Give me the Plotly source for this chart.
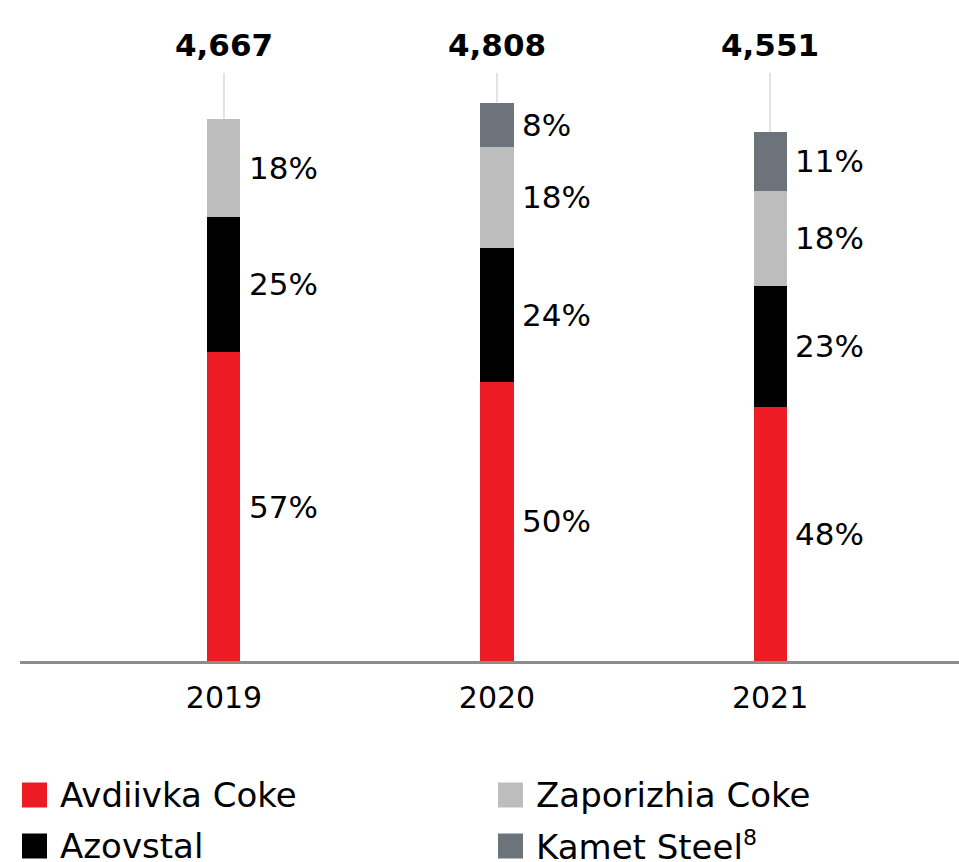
import plotly.graph_objects as go

years = ["2019", "2020", "2021"]
totals = [4667, 4808, 4551]
series_names = ["Avdiivka Coke", "Azovstal", "Zaporizhia Coke", "Kamet Steel"]
pct_avdiivka = [57, 50, 48]
pct_azovstal = [25, 24, 23]
pct_zaporizhia = [18, 18, 18]
pct_kamet = [0, 8, 11]
colors = ["#ED1C24", "#000000", "#BDBDBD", "#6C737A"]

pcts = [pct_avdiivka, pct_azovstal, pct_zaporizhia, pct_kamet]

W, H = 959, 862
ML, MR, MT, MB = 20, 0, 0, 201
FONT = "DejaVu Sans"

fig = go.Figure()
seg_vals = []
for name, pct, col in zip(series_names, pcts, colors):
    vals = [t * p / 100 for t, p in zip(totals, pct)]
    seg_vals.append(vals)
    fig.add_trace(go.Bar(x=years, y=vals, name=name, marker=dict(color=col, line=dict(width=0)),
                         width=0.121, showlegend=False, hoverinfo="skip"))

annotations = []
shapes = []
for i, y in enumerate(years):
    base = 0
    for s in range(len(series_names)):
        v = seg_vals[s][i]
        if pcts[s][i] > 0:
            annotations.append(dict(x=i, y=base + v / 2, xref="x", yref="y", text=f"{pcts[s][i]}%",
                                    showarrow=False, xanchor="left", yanchor="middle", xshift=23,
                                    font=dict(family=FONT, size=31, color="#000")))
        base += v
    annotations.append(dict(x=i, y=5300, xref="x", yref="y", text=f"<b>{totals[i]:,}</b>",
                            showarrow=False, xanchor="center", yanchor="middle",
                            font=dict(family=FONT, size=31, color="#000")))
    shapes.append(dict(type="line", xref="x", yref="y", x0=i, x1=i, y0=totals[i], y1=5063,
                       line=dict(color="#CFCFCF", width=1.2), layer="below"))

# manual legend (two columns)
plot_h = H - MT - MB
plot_w = W - ML - MR
legend_order = [0, 2, 1, 3]
positions = [(22, 795), (498, 795), (22, 846), (498, 846)]
for idx, (px, py) in zip(legend_order, positions):
    x0 = (px - ML) / plot_w
    x1 = (px + 25 - ML) / plot_w
    y0 = (H - MB - (py - 12.5)) / plot_h
    y1 = (H - MB - (py + 12.5)) / plot_h
    shapes.append(dict(type="rect", xref="paper", yref="paper", x0=x0, x1=x1, y0=y1, y1=y0,
                       fillcolor=colors[idx], line=dict(width=0)))
    label = series_names[idx]
    if label == "Kamet Steel":
        label = "Kamet Steel<sup><span style='font-size:22px'>8</span></sup>"
    annotations.append(dict(x=(px + 36 - ML) / plot_w, y=(H - MB - py) / plot_h, xref="paper", yref="paper",
                            text=label, showarrow=False, xanchor="left", yanchor="middle",
                            font=dict(family=FONT, size=34, color="#000")))

fig.update_layout(
    width=W, height=H,
    margin=dict(l=ML, r=MR, t=MT, b=MB),
    barmode="stack",
    plot_bgcolor="white", paper_bgcolor="white",
    xaxis=dict(type="category", range=[-0.747, 2.692], showgrid=False, zeroline=False, showline=True,
               linecolor="#8C8C8C", linewidth=3, ticks="outside", ticklen=8, tickcolor="rgba(0,0,0,0)",
               tickfont=dict(family=FONT, size=30, color="#000"), fixedrange=True),
    yaxis=dict(range=[0, 5691], visible=False, showgrid=False, zeroline=False, fixedrange=True),
    annotations=annotations,
    shapes=shapes,
    showlegend=False,
)

fig.write_html("out.html")
